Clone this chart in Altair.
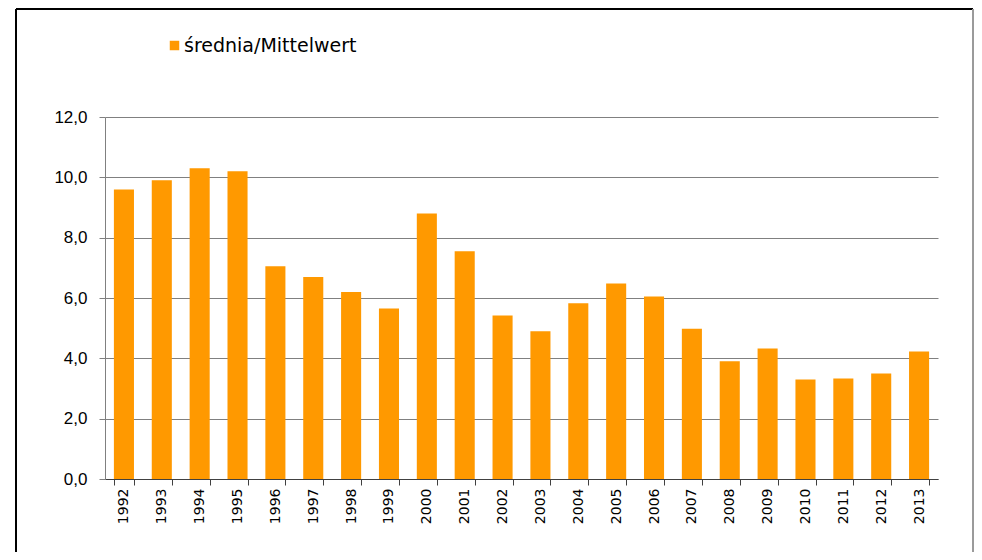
import altair as alt
import pandas as pd

years = [str(y) for y in range(1992, 2014)]
values = [9.6, 9.9, 10.3, 10.2, 7.05, 6.7, 6.2, 5.65, 8.8, 7.55, 5.42, 4.9,
          5.83, 6.48, 6.05, 4.98, 3.9, 4.33, 3.3, 3.33, 3.5, 4.23]
series_name = "średnia/Mittelwert"

df = pd.DataFrame({"year": years, "value": values, "series": series_name})

FONT = "Liberation Sans"

bars = alt.Chart(df).mark_bar(color="#FF9900").encode(
    x=alt.X("year:N", sort=years, title=None,
            scale=alt.Scale(paddingInner=0.47, paddingOuter=0.235),
            axis=alt.Axis(labelAngle=270, labelFontSize=14, labelFont="DejaVu Sans",
                          labelColor="#000000", labelAlign="right", labelBaseline="middle",
                          tickBand="extent", tickSize=6, tickColor="#404040",
                          domainColor="#404040", labelPadding=3)),
    y=alt.Y("value:Q", title=None,
            scale=alt.Scale(domain=[0, 12], nice=False),
            axis=alt.Axis(values=[0, 2, 4, 6, 8, 10, 12], grid=True, gridColor="#808080",
                          gridWidth=1, labelFontSize=17, labelFont=FONT, labelColor="#000000",
                          labelExpr="replace(format(datum.value, '.1f'), '.', ',')",
                          tickSize=6, tickColor="#808080", domainColor="#808080",
                          labelPadding=12)),
    color=alt.Color("series:N",
                    scale=alt.Scale(domain=[series_name], range=["#FF9900"]),
                    legend=alt.Legend(title=None, orient="none", legendX=60, legendY=-81,
                                      symbolType="square", symbolSize=90,
                                      symbolStrokeWidth=0, labelFontSize=19,
                                      labelFont="DejaVu Sans", labelLimit=500,
                                      labelColor="#000000", padding=0, labelOffset=0)),
)

top_border = alt.Chart(df).mark_rule(color="#000000", strokeWidth=2).encode(
    x=alt.value(-89), x2=alt.value(868), y=alt.value(-108))
left_border = alt.Chart(df).mark_rule(color="#000000", strokeWidth=2).encode(
    x=alt.value(-89), y=alt.value(-108), y2=alt.value(460))
right_border = alt.Chart(df).mark_rule(color="#9a9a9a", strokeWidth=1).encode(
    x=alt.value(868), y=alt.value(-108), y2=alt.value(460))

chart = alt.layer(bars, top_border, left_border, right_border).properties(
    width=833, height=362,
    autosize=alt.AutoSizeParams(type="none"),
    padding={"left": 97, "top": 109, "right": 36, "bottom": 73},
).configure(background="#ffffff").configure_view(stroke=None, strokeWidth=0)

chart.save("out.html", embed_options={"renderer": "svg", "actions": False})
